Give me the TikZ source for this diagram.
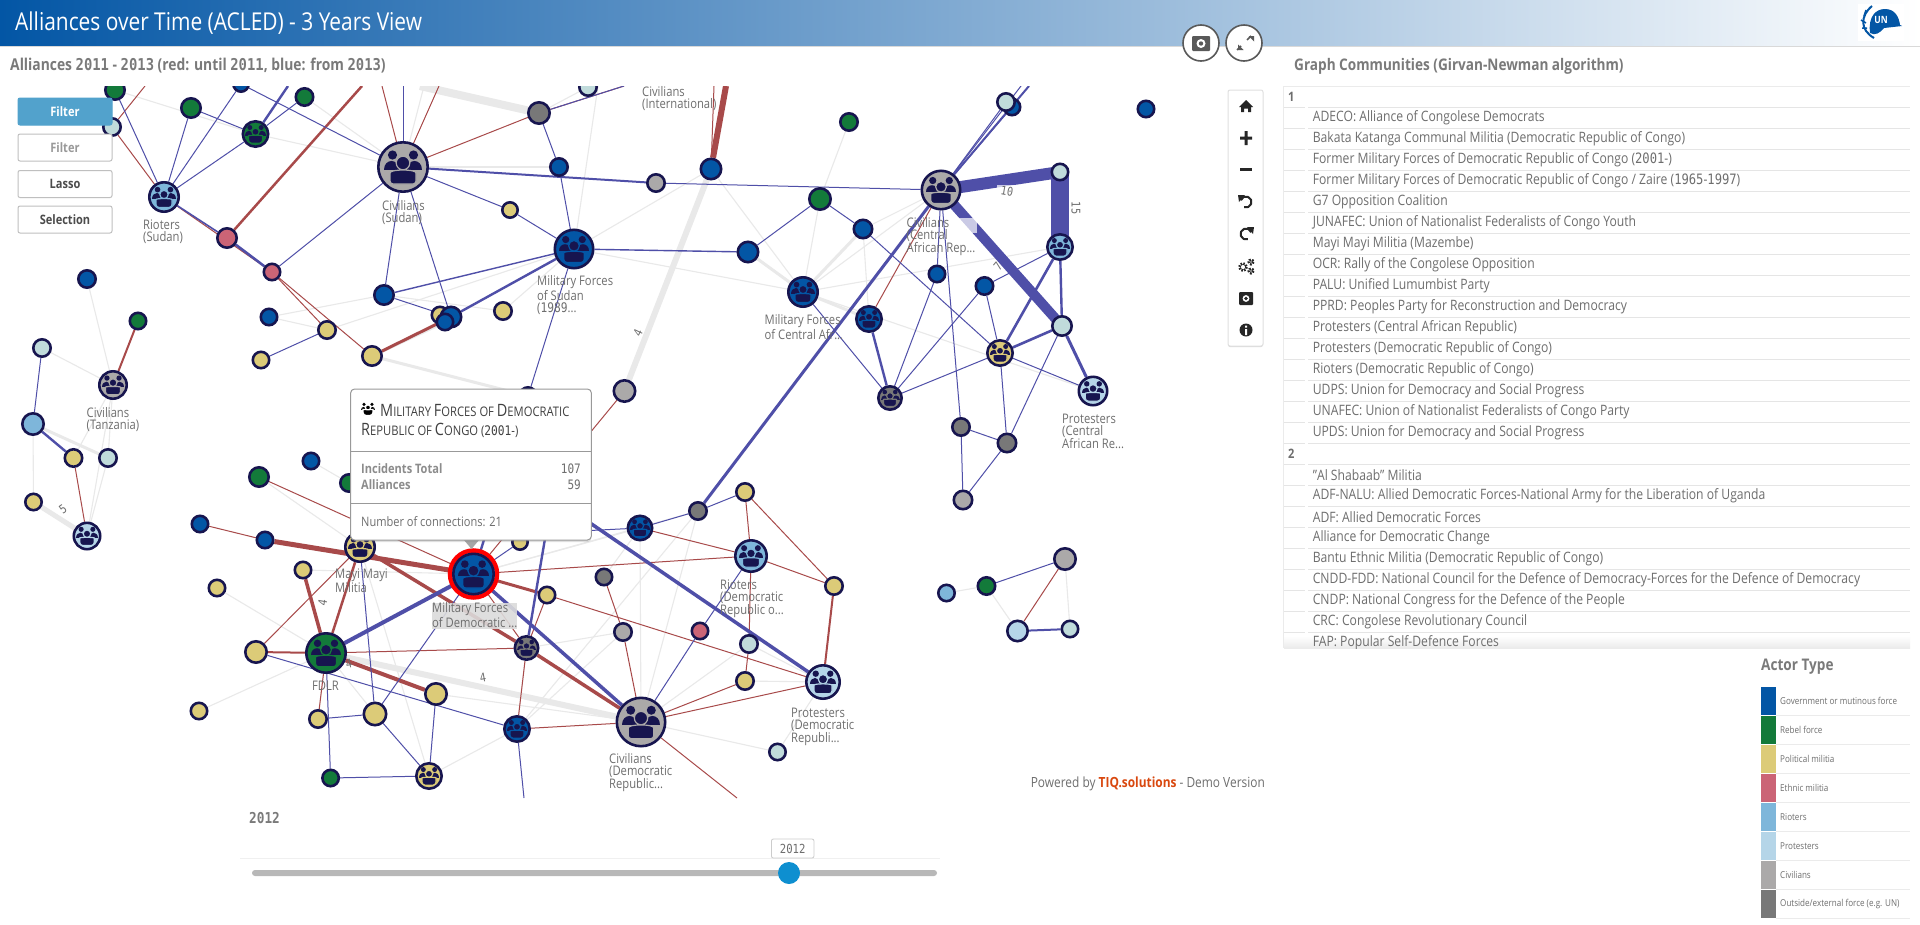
\documentclass[tikz,border=0pt]{standalone}
\usepackage{fontspec}
\setmainfont[FakeStretch=0.85]{Open Sans}
\newfontfamily\monod[FakeStretch=0.85]{DejaVu Sans Mono}
\newcommand\md[1]{{\monod #1}}
\usetikzlibrary{shadows,arrows.meta}
\pgfdeclarelayer{edges}\pgfdeclarelayer{ui}
\pgfsetlayers{edges,main,ui}
\definecolor{nav}{HTML}{17154F}
\definecolor{cgov}{HTML}{0356A5}
\definecolor{creb}{HTML}{137A3A}
\definecolor{cpol}{HTML}{DCCB78}
\definecolor{ceth}{HTML}{CB6476}
\definecolor{crio}{HTML}{7EB6DA}
\definecolor{cpro}{HTML}{B5D5E8}
\definecolor{cciv}{HTML}{ABA9A9}
\definecolor{cout}{HTML}{787878}
\definecolor{cpal}{HTML}{C0DBDB}
\definecolor{eblue}{HTML}{4F4FA8}
\definecolor{ered}{HTML}{A84A4A}
\definecolor{egrey}{HTML}{E9E9E9}
\definecolor{ttext}{HTML}{6E6E6E}
\definecolor{head}{HTML}{7A7A7A}
\definecolor{chd}{HTML}{0E8FD0}
\definecolor{cbtn}{HTML}{52A2CC}
\definecolor{corg}{HTML}{D9480F}
\tikzset{
 act/.style={circle,draw=nav,line width=2.6pt,inner sep=0pt},
 bl/.style={draw=eblue,line width=1pt},
 rd/.style={draw=ered,line width=1pt},
 gy/.style={draw=egrey,line width=1.1pt},
 lbl/.style={anchor=north west,align=left,inner sep=0pt,text=ttext,font=\fontsize{13.2}{12}\selectfont},
 elab/.style={inner sep=0pt,text=ttext,font=\fontsize{12}{12}\selectfont},
 rowt/.style={anchor=west,inner sep=0pt,text=ttext,font=\fontsize{14.3}{14}\selectfont},
 legt/.style={anchor=west,inner sep=0pt,text=ttext,font=\fontsize{9.5}{10}\selectfont},
 btn/.style={draw=black!25,line width=1pt,fill=white,rounded corners=2pt,minimum width=94pt,minimum height=27pt,inner sep=0pt,text=black!70,font=\bfseries\fontsize{13}{13}\selectfont},
 sect/.style={anchor=west,inner sep=0pt,text=head,font=\bfseries\fontsize{16.3}{15}\selectfont},
}
\newcommand\peopleicon[2]{%
 \fill[#1] (-10.5,-12) circle (4.6) (10.5,-12) circle (4.6);
 \fill[#1] (-19,3) .. controls (-19,-9) and (-4,-9) .. (-4,3) -- cycle;
 \fill[#1] (19,3) .. controls (19,-9) and (4,-9) .. (4,3) -- cycle;
 \filldraw[fill=#1,draw=#2,line width=1.2pt] (0,-4) circle (6.8);
 \filldraw[fill=#1,draw=#2,line width=1.2pt,rounded corners=3pt] (-13,17) -- (-13,9) .. controls (-13,2) and (13,2) .. (13,9) -- (13,17) -- cycle;
}
\newcommand\nd[5]{\node[act,fill=#5,minimum size={(2*#4-2.6)*1pt}] (#1) at (#2,#3) {};}
\newcommand\ndi[5]{\nd{#1}{#2}{#3}{#4}{#5}\begin{scope}[shift={(#2,#3)},scale=#4/26]\peopleicon{nav}{#5}\end{scope}}
\newcommand\lb[4]{\node[lbl] (#1) at (#2,#3-6.5) {#4};}
\begin{document}
\begin{tikzpicture}[x=1pt,y=-1pt]
\useasboundingbox (0,0) rectangle (1920,924);
% ---------- nodes of the graph
\begin{scope}
\clip (0,86) rectangle (1228,798);
\nd{gA}{115}{90}{11}{creb}\nd{pA}{112}{127}{10}{cpal}\nd{gB}{191}{108}{11}{creb}
\ndi{gC}{255.5}{134}{14}{creb}\nd{gD}{304.5}{97}{10}{creb}\nd{nT}{241}{84}{9}{cgov}
\ndi{rS}{164}{197}{16}{crio}\nd{e1}{227}{238}{11}{ceth}\nd{e2}{272}{272}{9.5}{ceth}
\ndi{cS}{403}{167}{26}{cciv}\nd{oT}{539}{113}{12}{cout}\nd{pT}{588}{87}{10}{cpal}
\nd{bA}{559}{167}{10}{cgov}\nd{yA}{510}{210}{9}{cpol}\ndi{mS}{574}{249}{20.5}{cgov}
\nd{bB}{384}{295}{11}{cgov}\nd{yB}{440}{315}{9.5}{cpol}\nd{bC}{451}{317}{11.5}{cgov}\nd{bD}{445}{322}{9.5}{cgov}
\nd{yC}{503}{311}{10}{cpol}\nd{yD}{327}{330}{10}{cpol}\nd{bE}{269}{317}{9.5}{cgov}
\nd{yE}{372}{356}{11}{cpol}\nd{yF}{261}{360}{9.5}{cpol}\nd{nH}{528}{396}{10}{cgov}
\nd{bT}{87}{279}{10}{cgov}\nd{gT}{138}{321}{9.5}{creb}\nd{pZ}{42}{348}{10}{cpal}
\ndi{cT}{113}{385}{15}{cciv}\nd{lT}{33}{424}{12}{crio}\nd{yT}{73.5}{458}{10}{cpol}
\nd{pY}{108}{458}{10}{cpal}\nd{yU}{33.5}{502}{9.5}{cpol}\ndi{rT}{87}{536}{14.5}{cpro}
\nd{cI}{624.5}{391}{12}{cciv}
\nd{bR}{711}{169}{11.5}{cgov}\nd{gN}{849}{122}{10}{creb}\nd{bU}{1012}{107}{9.5}{cgov}\nd{pU}{1006}{102}{10}{cpal}
\nd{bF}{1146}{109}{9.5}{cgov}\nd{cG}{656}{183}{10}{cciv}\nd{gM}{820}{199}{12}{creb}
\nd{bM}{863}{229}{10.5}{cgov}\nd{bL}{748}{252}{11.5}{cgov}\ndi{cC}{941}{190}{20.5}{cciv}
\nd{pR}{1060}{172}{9.5}{cpal}\ndi{rC}{1060}{247}{14}{crio}\nd{pS}{1062}{326}{11}{cpal}
\nd{bK}{937}{274}{9.5}{cgov}\nd{bJ}{984.5}{286}{10}{cgov}\ndi{mC}{803}{292}{16}{cgov}
\ndi{nC}{869}{319}{14}{cgov}\ndi{yI}{1000}{353}{14}{cpol}\ndi{oI}{890}{398}{13}{cout}
\ndi{pC}{1093}{391}{15.5}{cpro}\nd{oA}{961}{427}{10}{cout}\nd{oB}{1007}{443}{10.5}{cout}\nd{cE}{963}{500}{10.5}{cciv}
\nd{bV}{311}{461}{9.5}{cgov}\nd{gW}{259}{477}{11}{creb}\nd{gX}{349}{483}{10}{creb}
\nd{bY}{200}{524}{9.5}{cgov}\nd{bZ}{265}{540}{9.5}{cgov}\ndi{mm}{360}{547}{16}{cpol}
\nd{yG}{303}{570}{9.5}{cpol}\nd{yH}{217}{588}{9.5}{cpol}
\draw[red,line width=4.5pt] (473.5,574) circle (23.5);
\ndi{mD}{473.5}{574}{21.5}{cgov}
\nd{yN}{520}{542}{9}{cpol}\nd{oP}{604}{577}{9.5}{cout}\nd{yO}{547}{595}{9.5}{cpol}\nd{cQ}{623}{632}{10}{cciv}
\nd{yP}{256}{652}{12}{cpol}\ndi{fd}{326}{653}{21}{creb}\ndi{oQ}{526.5}{648}{13}{cout}
\nd{yQ}{436}{694}{12}{cpol}\nd{yR}{375}{714}{12.5}{cpol}\nd{yS}{318}{719}{10}{cpol}\nd{yV}{199}{711}{9.5}{cpol}
\ndi{nQ}{517}{729}{14}{cgov}\ndi{cD}{641}{722}{25.5}{cciv}\nd{gY}{330.6}{778}{9.5}{creb}\ndi{yJ}{429}{776}{14}{cpol}
\ndi{nR}{640}{528}{13.5}{cgov}\nd{oR}{698}{511}{10}{cout}\nd{yK}{745}{492}{10}{cpol}
\ndi{rD}{751}{556}{17}{crio}\nd{yL}{834}{586}{10}{cpol}\nd{eR}{700}{631}{9.5}{ceth}
\nd{pL}{749}{644}{10}{cpal}\nd{yM}{745}{681}{10}{cpol}\ndi{pD}{823}{682}{18}{cpro}\nd{pM}{777.5}{752}{9.5}{cpal}
\nd{rR}{946.5}{593}{9.5}{crio}\nd{gR}{986.5}{586}{10}{creb}\nd{cR}{1065}{559}{12}{cciv}
\nd{pE}{1017.5}{631}{11.5}{cpro}\nd{pF}{1070}{629}{9.5}{cpal}
\end{scope}
% free ends of connectors that leave the panel or pass under the tooltip
\coordinate (t1) at (145,86);\coordinate (t2) at (288,86);\coordinate (t3) at (362,86);
\coordinate (t4) at (382,86);\coordinate (t5) at (403,86);\coordinate (t6) at (439,86);
\coordinate (t7) at (424,86);\coordinate (t8) at (420,86);\coordinate (t9) at (624,86);
\coordinate (t10) at (598,86);\coordinate (t11) at (1029,86);\coordinate (t12) at (1021,86);
\coordinate (t13) at (726,86);\coordinate (t14) at (714,86);
\coordinate (b1) at (524,798);\coordinate (b2) at (737,798);
\coordinate (h1) at (470,441);\coordinate (h2) at (560,450);\coordinate (h3) at (560,532);
% ---------- connectors
\begin{pgfonlayer}{edges}
\fill[white] (0,0) rectangle (1920,924);
\clip (0,86) rectangle (1228,798);
\foreach \a/\b in {gA/gC,gC/cS,gD/cS,t7/cS,cS/bA,pT/oT,t10/mS,mS/bR,mS/mC,yD/mS,yC/mS,bB/bE,bB/yC,bE/yD,
 bT/cT,pZ/cT,lT/yU,cT/yT,cT/pY,cT/rT,pY/rT,bR/mC,gM/gN,gM/mC,bM/cC,bM/mC,bM/nC,cC/mC,mC/rC,mC/pC,bL/mC,
 bV/gX,gW/mm,yH/fd,yV/fd,yG/mD,mm/yJ,fd/yR,yQ/cD,nQ/yJ,oQ/cQ,nQ/cQ,nR/cD,oR/cD,oR/nQ,nR/oP,nR/mD,
 cD/pL,yM/pD,pL/pD,cD/pM,pD/pM,rR/gR,gR/pE,cR/pF,nQ/oQ,mD/oR,oQ/cD,cD/mD,yS/fd} \draw[gy] (\a)--(\b);
\draw[gy,line width=8pt] (t8)--(oT);
\draw[gy,line width=6pt] (cI)--(bR);
\draw[gy,line width=3pt] (yE)--(nH);
\draw[gy,line width=3pt] (yE)--(bD);
\draw[gy,line width=3pt] (lT)--(pY);
\draw[gy,line width=5pt] (yU)--(rT);
\draw[gy,line width=3pt] (mC)--(nC);
\draw[gy,line width=3pt] (bL)--(mC);
\draw[gy,line width=3pt] (bM)--(mC);
\draw[gy,line width=6pt] (fd)--(cD);
\foreach \a/\b in {pA/rS,pA/t1,cS/t4,cS/t6,cS/oT,oT/t9,rS/e2,e1/e2,e2/yE,e2/yD,mS/bC,t14/bR,cC/nC,cI/mD,
 yT/rT,gW/mD,bY/bZ,mm/yP,fd/oQ,fd/mD,fd/yS,mD/oQ,yO/oQ,oQ/nQ,nQ/cD,oP/cQ,cQ/cD,nR/rD,yK/rD,yK/yL,rD/yL,
 mD/rD,yO/pD,rD/pL,pL/yM,yM/cD,pD/cD,cD/b2,cR/pE} \draw[rd] (\a)--(\b);
\draw[rd,line width=2.5pt] (e1)--(t3);
\draw[rd,line width=6pt] (t13)--(bR);
\draw[rd,line width=3pt] (yE)--(bC);
\draw[rd,line width=2pt] (gT)--(cT);
\draw[rd,line width=5pt] (bZ)--(mD);
\draw[rd,line width=3.5pt] (mm)--(oQ);
\draw[rd,line width=3.5pt] (oQ)--(cD);
\draw[rd,line width=3.5pt] (yG)--(fd);
\draw[rd,line width=2.5pt] (mm)--(fd);
\draw[rd,line width=2pt] (yP)--(fd);
\draw[rd,line width=4pt] (fd)--(yQ);
\draw[rd,line width=3pt] (mD)--(yO);
\draw[rd,line width=2pt] (yL)--(pD);
\foreach \a/\b in {gA/rS,gB/gC,gB/rS,rS/nT,rS/gC,gC/gD,nT/cS,cS/t5,oT/t9,oT/bA,bA/mS,cS/yA,yA/mS,cS/e2,cS/bB,cS/bC,
 bB/bC,yF/yD,mS/nH,pZ/lT,cG/cC,gM/bM,gM/bL,cC/pU,cC/bU,cC/t12,bM/yI,cC/bK,cC/oA,bK/oI,bJ/oI,bJ/yI,bJ/rC,mC/oI,oI/yI,
 yI/oB,yI/pC,pS/oB,oA/oB,oA/cE,oB/cE,mm/yR,fd/gY,yS/yR,yR/mD,yR/yJ,yQ/yJ,gY/yJ,yP/nQ,mD/yN,nQ/b1,nR/oR,oR/yK,
 rD/eR,eR/cD,gR/cR,fd/mD,h3/nR} \draw[bl] (\a)--(\b);
\draw[bl,line width=1.4pt] (mS)--(bB);
\draw[bl,line width=2.4pt] (mS)--(bC);
\draw[bl,line width=2pt] (cS)--(cG);
\draw[bl,line width=2.4pt] (gC)--(t2);
\draw[bl,line width=1.6pt] (rS)--(e1);
\draw[bl,line width=2.5pt] (e1)--(e2);
\draw[bl,line width=1.4pt] (mS)--(bL);
\draw[bl,line width=2.4pt] (lT)--(yT);
\draw[bl,line width=2pt] (cC)--(t11);
\draw[bl,line width=12pt] (cC.center)--(pR.center);
\draw[bl,line width=18pt] (pR.center)--(rC.center);
\draw[bl,line width=10pt] (cC.center)--(pS.center);
\draw[bl,line width=2.4pt] (rC)--(pS);
\draw[bl,line width=2.6pt] (rC)--(yI);
\draw[bl,line width=3pt] (cC)--(oR);
\draw[bl,line width=2.4pt] (nC)--(oI);
\draw[bl,line width=2.6pt] (yI)--(pS);
\draw[bl,line width=3pt] (pC)--(pS);
\draw[bl,line width=4pt] (fd)--(mD);
\draw[bl,line width=2.4pt] (mD)--(nH);
\draw[bl,line width=3.5pt] (mD)--(cD);
\draw[bl,line width=3.5pt] (h1)--(pD);
\draw[bl,line width=2.4pt] (oQ)--(h2);
\draw[bl,line width=2pt] (pE)--(pF);
\fill[white,opacity=.7] (958,218) rectangle (977,233);
\fill[white,opacity=.7] (997,185) rectangle (1015,200);
\end{pgfonlayer}
% ---------- node labels
\lb{lA}{143}{226}{Rioters\\(Sudan)}
\lb{lB}{382}{207}{Civilians\\(Sudan)}
\lb{lC}{537}{282}{Military Forces\\of Sudan\\(\md{1989}...}
\lb{lD}{86.5}{414}{Civilians\\(Tanzania)}
\lb{lE}{642}{93}{Civilians\\(International)}
\lb{lF}{906.5}{224}{Civilians\\(Central\\African Rep...}
\lb{lG}{764.5}{321}{Military Forces\\of Central Afr...}
\lb{lH}{1062}{420}{Protesters\\(Central\\African Re...}
\lb{lI}{335}{575}{Mayi Mayi\\Militia}
\fill[black!14,opacity=.9] (432,603) rectangle (517,629);
\lb{lJ}{432}{609}{Military Forces\\of Democratic ...}
\lb{lK}{312}{687}{FDLR}
\lb{lL}{609}{760}{Civilians\\(Democratic\\Republic...}
\lb{lM}{720}{586}{Rioters\\(Democratic\\Republic o...}
\lb{lN}{791}{714}{Protesters\\(Democratic\\Republi...}
\node[elab,rotate=-10] (e10) at (1007,191) {\md{10}};
\node[elab,rotate=-90] (e15) at (1076,208) {\md{15}};
\node[elab,rotate=50] (e7) at (998,266) {\md{7}};
\node[elab,rotate=65] (e4a) at (638,333) {\md{4}};
\node[elab,rotate=35] (e5) at (63,509) {\md{5}};
\node[elab,rotate=80] (e4b) at (322.5,603) {\md{4}};
\node[elab,rotate=10] (e4c) at (349,664) {\md{4}};
\node[elab,rotate=10] (e4d) at (483,678) {\md{4}};
% ---------- interface
\begin{pgfonlayer}{ui}
\shade[left color=cgov,right color=white] (0,0) rectangle (1920,46.5);
\draw[black!15,line width=.8pt] (0,46.5)--(1920,46.5);
\node[anchor=west,inner sep=0pt,text=white,font=\fontsize{24.6}{25}\selectfont] (title) at (15,23) {Alliances over Time (ACLED) - 3 Years View};
\node[sect] (sA) at (10,66) {Alliances \md{2011} - \md{2013} (red: until \md{2011}, blue: from \md{2013})};
\node[sect,font=\bfseries\fontsize{16}{15}\selectfont] (sB) at (1294,66) {Graph Communities (Girvan-Newman algorithm)};
% UN logo
\fill[white] (1858,4) rectangle (1904,41);
\fill[cgov] (1870,33) .. controls (1868,16) and (1876,9) .. (1885,9) .. controls (1895,9) and (1899,17) .. (1900,25) -- (1902,26) -- (1884,28) .. controls (1880,33) and (1875,36) .. (1870,33) -- cycle;
\draw[cgov,line width=2pt] (1872,6) .. controls (1860,16) and (1860,30) .. (1874,38);
\draw[cgov,line width=1.5pt] (1866,10)--(1864,16) (1861,20)--(1866,23) (1862,28)--(1867,28);
\node[inner sep=0pt,text=white,font=\bfseries\fontsize{10}{10}\selectfont] (un) at (1881,20) {UN};
% buttons
\node[btn,fill=cbtn,draw=cbtn,text=white] (fA) at (65,111.5) {Filter};
\node[btn,text=black!40] (fB) at (65,147.5) {Filter};
\node[btn] (fC) at (65,184) {Lasso};
\node[btn] (fD) at (65,219.5) {Selection};
% top round buttons
\node[circle,draw=black!65,line width=1.6pt,fill=white,minimum size=36pt] (cam) at (1201,43) {};
\node[circle,draw=black!65,line width=1.6pt,fill=white,minimum size=36pt] (exp) at (1244,43) {};
\fill[black!65,rounded corners=1pt] (1192,36) rectangle (1210,51);
\fill[white] (1201,43.5) circle (4.5);\fill[black!65] (1201,43.5) circle (2.2);
\draw[black!65,line width=1.5pt] (1241,46)--(1237,50) (1247,40)--(1251,36);
\fill[black!65] (1238,44.5) -- (1238,50) -- (1243.5,50) -- cycle (1254,36) -- (1248.5,36) -- (1254,41.5) -- cycle;
% toolbar
\filldraw[draw=black!12,line width=1pt,fill=white,rounded corners=2pt,drop shadow={opacity=.3,shadow xshift=0pt,shadow yshift=-1pt}] (1228,90) rectangle (1263,346);
\fill[black!85] (1246,100) -- (1253,107) -- (1251,107) -- (1251,112) -- (1248,112) -- (1248,108.5) -- (1244,108.5) -- (1244,112) -- (1241,112) -- (1241,107) -- (1239,107) -- cycle;
\fill[black!85] (1244.5,131) rectangle (1247.5,145) (1240,136.5) rectangle (1252,139.5);
\fill[black!85] (1240,168) rectangle (1252,170.5);
\draw[black!85,line width=2pt] (1246,202) ++(200:5.5) arc[start angle=200,end angle=470,radius=5.5];
\draw[black!85,line width=2pt] (1246,234) ++(-20:5.5) arc[start angle=-20,end angle=-290,radius=5.5];
\fill[black!85] (1238,195) -- (1245,195) -- (1239,202) -- cycle (1254,227) -- (1247,227) -- (1253,234) -- cycle;
\draw[black!85,line width=2.6pt,dash pattern=on 1.6pt off 1.2pt] (1243,267) circle (3.6) (1251,262) circle (2.2) (1251,271) circle (2.2);
\fill[black!85,rounded corners=1pt] (1239,292) rectangle (1253,305);
\fill[white] (1246,298.5) circle (3.4);\fill[black!85] (1246,298.5) circle (1.8);
\fill[black!85] (1246,330) circle (6.5);
\fill[white] (1245,325.5) rectangle (1247,327.5) (1245,329) rectangle (1247,335);
% tooltip
\fill[black!35] (464,540) -- (479,540) -- (471.5,549) -- cycle;
\filldraw[draw=black!40,line width=1pt,fill=white,rounded corners=4pt,drop shadow={opacity=.25,shadow xshift=0pt,shadow yshift=-2pt}] (350.6,389) rectangle (591.4,540);
\begin{scope}[shift={(368,409)},scale=.38]\peopleicon{black}{white}\end{scope}
\node[anchor=west,inner sep=0pt,text=black!75,font=\fontsize{13.2}{14}\selectfont] (tt1) at (380,410) {{\fontsize{17}{14}\selectfont M}ILITARY {\fontsize{17}{14}\selectfont F}ORCES OF {\fontsize{17}{14}\selectfont D}EMOCRATIC};
\node[anchor=west,inner sep=0pt,text=black!75,font=\fontsize{13.2}{14}\selectfont] (tt2) at (361,430) {{\fontsize{17}{14}\selectfont R}EPUBLIC OF {\fontsize{17}{14}\selectfont C}ONGO (\md{2001}-)};
\draw[black!40,line width=.8pt] (350.6,451)--(591.4,451) (350.6,503)--(591.4,503);
\node[anchor=west,inner sep=0pt,text=black!45,font=\bfseries\fontsize{13}{13}\selectfont] (tt3) at (361,469) {Incidents Total};
\node[anchor=west,inner sep=0pt,text=black!45,font=\bfseries\fontsize{13}{13}\selectfont] (tt4) at (361,485) {Alliances};
\node[anchor=east,inner sep=0pt,text=ttext,font=\fontsize{13}{13}\selectfont] (tt5) at (581,469) {\md{107}};
\node[anchor=east,inner sep=0pt,text=ttext,font=\fontsize{13}{13}\selectfont] (tt6) at (581,485) {\md{59}};
\node[anchor=west,inner sep=0pt,text=ttext,font=\fontsize{13}{13}\selectfont] (tt7) at (361,522) {Number of connections: 21};
% table
\draw[black!8,line width=1pt] (1283.6,86)--(1910,86) (1283.6,86)--(1283.6,648);
\begin{scope}
\clip (1280,86) rectangle (1912,648);
\shade[top color=white,bottom color=black!8] (1284,636) rectangle (1910,648);
\foreach \i in {0,...,25} \draw[black!10,line width=1pt] (1308,107.3+21*\i)--(1910,107.3+21*\i) (1284,107.3+21*\i)--(1305,107.3+21*\i);
\node[rowt,font=\bfseries\fontsize{13}{13}\selectfont] (hA) at (1288,97) {1};
\node[rowt,font=\bfseries\fontsize{13}{13}\selectfont] (hB) at (1288,453.5) {2};
\foreach \t [count=\i from 0] in {ADECO: Alliance of Congolese Democrats,
 Bakata Katanga Communal Militia (Democratic Republic of Congo),
 Former Military Forces of Democratic Republic of Congo (\md{2001}-),
 Former Military Forces of Democratic Republic of Congo / Zaire (\md{1965}-\md{1997}),
 G7 Opposition Coalition,
 JUNAFEC: Union of Nationalist Federalists of Congo Youth,
 Mayi Mayi Militia (Mazembe),
 OCR: Rally of the Congolese Opposition,
 PALU: Unified Lumumbist Party,
 PPRD: Peoples Party for Reconstruction and Democracy,
 Protesters (Central African Republic),
 Protesters (Democratic Republic of Congo),
 Rioters (Democratic Republic of Congo),
 UDPS: Union for Democracy and Social Progress,
 UNAFEC: Union of Nationalist Federalists of Congo Party,
 UPDS: Union for Democracy and Social Progress}
 \node[rowt] (ra\i) at (1312.6,117.7+21*\i) {\t};
\foreach \t [count=\i from 0] in {"Al Shabaab" Militia,
 ADF-NALU: Allied Democratic Forces-National Army for the Liberation of Uganda,
 ADF: Allied Democratic Forces,
 Alliance for Democratic Change,
 Bantu Ethnic Militia (Democratic Republic of Congo),
 CNDD-FDD: National Council for the Defence of Democracy-Forces for the Defence of Democracy,
 CNDP: National Congress for the Defence of the People,
 CRC: Congolese Revolutionary Council,
 FAP: Popular Self-Defence Forces}
 \node[rowt] (rb\i) at (1312.6,474.7+21*\i) {\t};
\end{scope}
% legend
\node[sect,font=\bfseries\fontsize{16}{16}\selectfont] (lg) at (1761,667) {Actor Type};
\foreach \c/\t [count=\i from 0] in {cgov/Government or mutinous force,creb/Rebel force,cpol/Political militia,ceth/Ethnic militia,crio/Rioters,cpro/Protesters,cciv/Civilians,cout/Outside{/}external force (e.g. UN)}{
 \fill[\c] (1761,687+29*\i) rectangle (1776,715.3+29*\i);
 \draw[black!8,line width=.8pt] (1776,715.6+29*\i)--(1910,715.6+29*\i);
 \node[legt] (lg\i) at (1780,701+29*\i) {\t};
}
% credit
\node[anchor=west,inner sep=0pt,text=ttext,font=\fontsize{14}{14}\selectfont] (pw) at (1030.6,784) {Powered by \textcolor{corg}{\bfseries TIQ.solutions} - Demo Version};
% slider
\node[anchor=west,inner sep=0pt,text=head,font=\bfseries\fontsize{15}{15}\selectfont] (yr) at (249,818) {\md{2012}};
\draw[black!6,line width=.8pt] (240,858)--(940,858);
\fill[black!28,rounded corners=3pt] (252,870) rectangle (937,876);
\node[circle,fill=chd,minimum size=22pt,inner sep=0pt] (hd) at (789,873) {};
\node[draw=black!20,line width=.8pt,fill=white,rounded corners=2pt,minimum width=42.6pt,minimum height=19pt,inner sep=0pt,text=ttext,font=\fontsize{12.5}{12.5}\selectfont] (yb) at (792.7,848.5) {\md{2012}};
\end{pgfonlayer}
\end{tikzpicture}
\end{document}
